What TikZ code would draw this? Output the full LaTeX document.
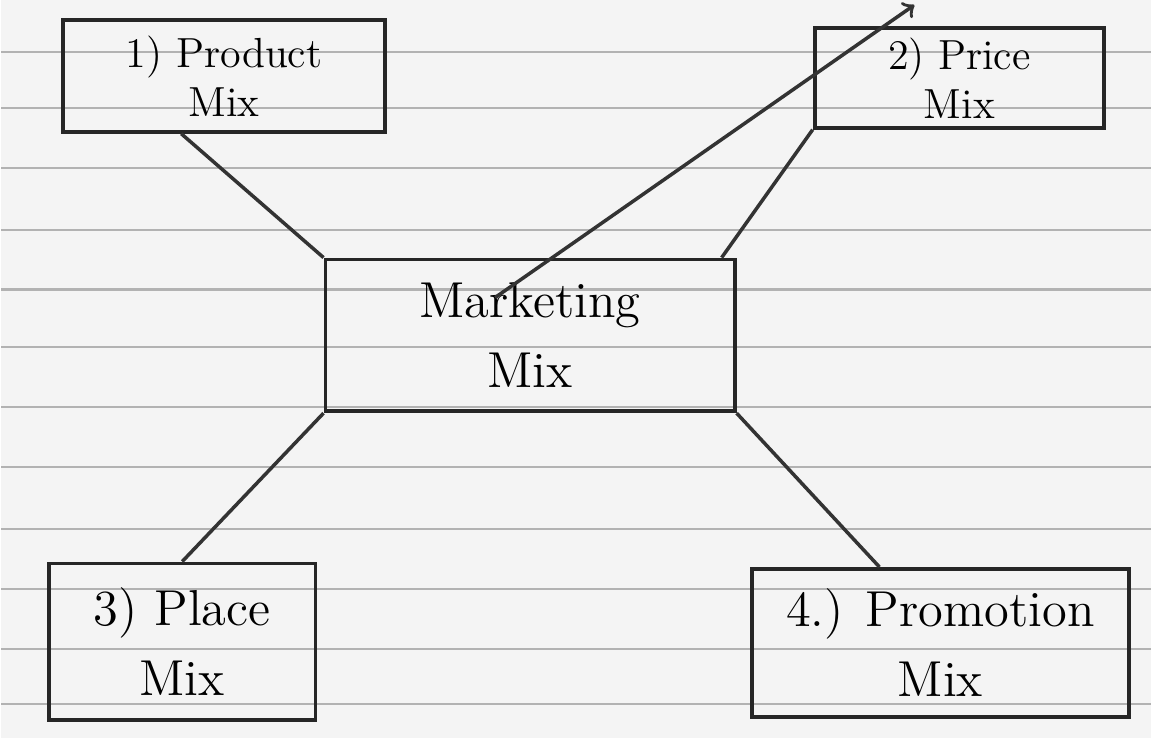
\documentclass[tikz,border=0pt]{standalone}
\usepackage{tikz}
\usetikzlibrary{calc}

\tikzset{
  mixbox/.style={draw, black!85, line width=1.1pt, inner sep=0pt, align=center,
    font=\Large, text=black},
  mixline/.style={black!80, line width=1pt}
}

\begin{document}
\begin{tikzpicture}
          % paper
          \fill[gray!9] (0,0) rectangle (11.52,7.39);
          \foreach \y in {0.52,1.08,1.68,2.30,2.90,3.48,4.08,4.68,5.30,5.90,6.50,7.05}
            \draw[gray!60, line width=0.6pt] (0,{7.39-\y}) -- (11.52,{7.39-\y});
          % boxes
          \node[mixbox, minimum width=4.10cm, minimum height=1.52cm] (mktmix)
            at (5.30,4.03) {Marketing\\[2pt] Mix};
          \node[mixbox, font=\large, minimum width=3.23cm, minimum height=1.12cm] (prodmix)
            at (2.235,6.63) {1) Product\\ Mix};
          \node[mixbox, font=\large, minimum width=2.90cm, minimum height=1.00cm] (pricemix)
            at (9.60,6.61) {2) Price\\ Mix};
          \node[mixbox, minimum width=2.67cm, minimum height=1.57cm] (placemix)
            at (1.815,0.96) {3) Place\\[2pt] Mix};
          \node[mixbox, minimum width=3.78cm, minimum height=1.48cm] (promomix)
            at (9.41,0.95) {4.) Promotion\\[2pt] Mix};
          % connectors
          \draw[mixline] ($(prodmix.south)+(-0.43,0)$) -- (mktmix.north west);
          \draw[mixline] (pricemix.south west) -- ($(mktmix.north east)+(-0.15,0)$);
          \draw[mixline] (mktmix.south west) -- (placemix.north);
          \draw[mixline] (mktmix.south east) -- ($(promomix.north)+(-0.61,0)$);
          \coordinate (strayend) at (9.15,7.34);
          \draw[mixline, ->] ($(mktmix.north)+(-0.35,-0.40)$) -- (strayend);
\end{tikzpicture}
\end{document}
